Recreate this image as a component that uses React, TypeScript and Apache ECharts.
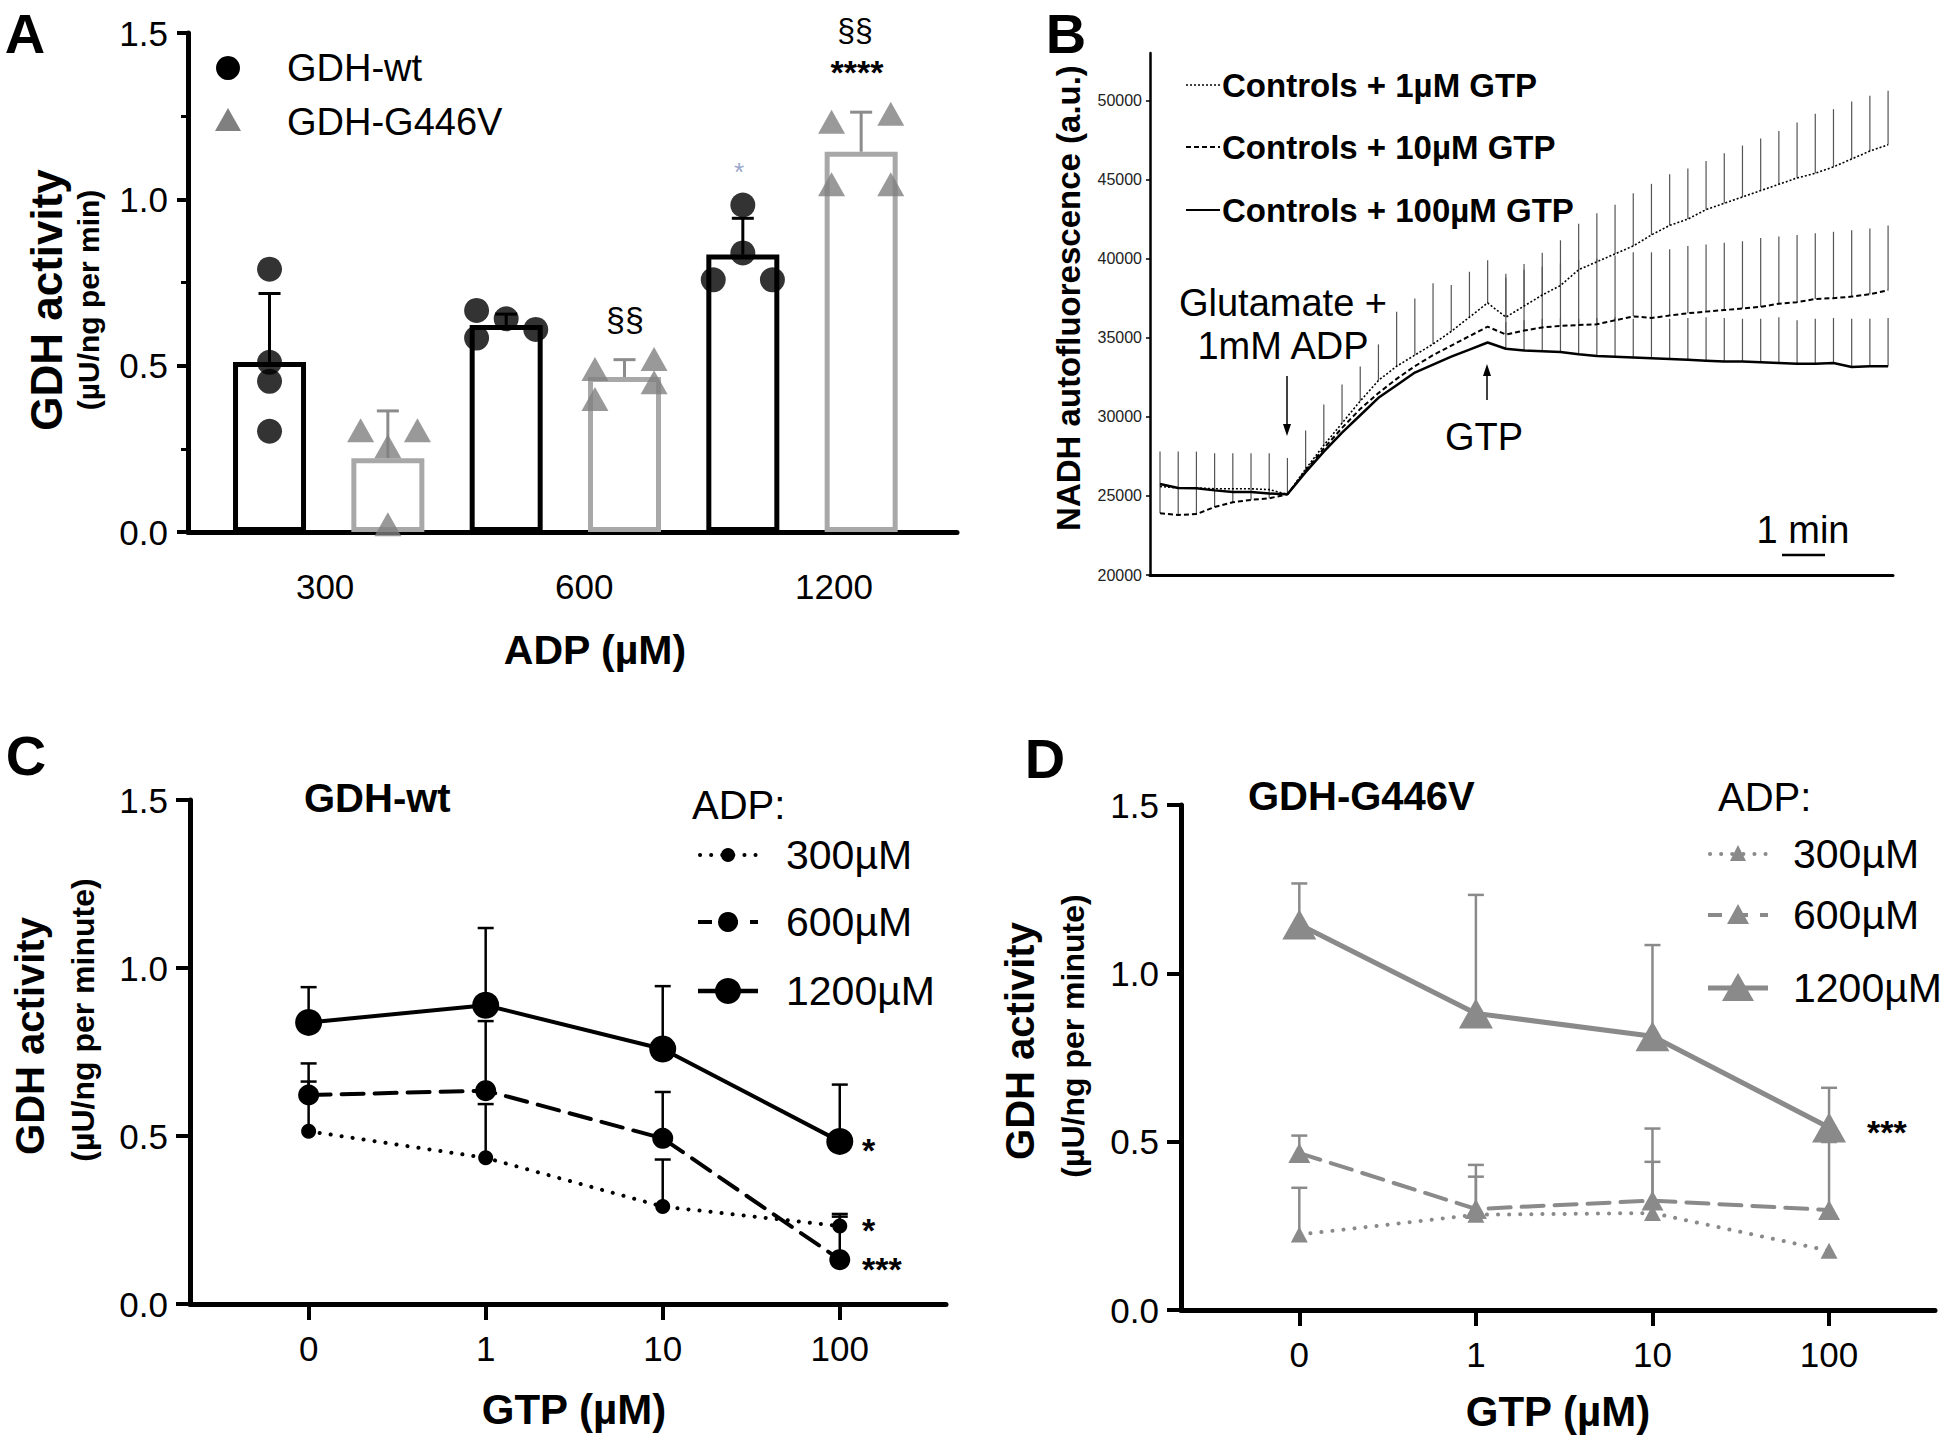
import React, { useEffect, useRef } from 'react';
import * as echarts from 'echarts';

// ---------- Panel A: GDH activity vs ADP ----------
const adpLevels = ['300', '600', '1200'];
const wtMean = [0.511, 0.622, 0.834];
const wtErrTop = [0.717, 0.655, 0.943];
const mutMean = [0.222, 0.466, 1.143];
const mutErrTop = [0.364, 0.518, 1.262];
const wtPoints = [[0.79, 0.51, 0.453, 0.303], [0.666, 0.583, 0.641, 0.609], [0.758, 0.983, 0.839, 0.758]];
const wtJitter = [[0, 0, 0, 0], [-0.25, -0.25, 0, 0.25], [-0.25, 0, 0, 0.25]];
const mutPoints = [[0.306, 0.258, 0.023, 0.306], [0.49, 0.40, 0.52, 0.45], [1.233, 1.045, 1.257, 1.045]];
const mutJitter = [[-0.23, 0, 0, 0.25], [-0.25, -0.25, 0.25, 0.25], [-0.25, -0.25, 0.25, 0.25]];

// ---------- Panel B: NADH autofluorescence time course ----------
const trace1uM = [25600, 25500, 25500, 25450, 25450, 25450, 25400, 25100, 26700, 28200, 29600, 31000, 32300, 33200, 33900, 34600, 35400, 36300, 37200, 36300, 37000, 37700, 38300, 39300, 39800, 40300, 40800, 41500, 42100, 42500, 43100, 43500, 43900, 44300, 44700, 45100, 45400, 45800, 46300, 46800, 47200];
const trace10uM = [23900, 23800, 23850, 24300, 24600, 24750, 24850, 25100, 26600, 28000, 29300, 30500, 31500, 32400, 33200, 33900, 34500, 35100, 35700, 35200, 35450, 35650, 35750, 35800, 35850, 36100, 36350, 36250, 36400, 36550, 36650, 36750, 36850, 36950, 37150, 37250, 37450, 37500, 37600, 37750, 38000];
const trace100uM = [25750, 25500, 25480, 25350, 25250, 25250, 25150, 25100, 26500, 27800, 29000, 30100, 31200, 32000, 32800, 33300, 33800, 34250, 34700, 34300, 34200, 34150, 34100, 33950, 33850, 33800, 33750, 33700, 33650, 33600, 33550, 33500, 33500, 33450, 33400, 33350, 33350, 33400, 33150, 33200, 33200];
const err1uMTop = [null, null, null, null, null, null, null, null, 29140, 30780, 32040, 33180, 34580, 36640, 37480, 38450, 38330, 39170, 39900, 39050, 39660, 40380, 41160, 42200, 42870, 43400, 44130, 44730, 45340, 45700, 46180, 46670, 47150, 47590, 48070, 48600, 49160, 49450, 49930, 50300, 50610];
const err10uMTop = [27800, 27800, 27800, 27700, 27700, 27700, 27700, 27400, null, null, null, null, null, null, null, null, null, null, null, 38800, 39300, 39500, 39700, 39900, 40000, 40200, 40400, 40400, 40600, 40800, 40900, 41000, 41100, 41300, 41400, 41500, 41600, 41700, 41800, 41900, 42100];
const err100uMTop = [null, null, null, null, null, null, null, null, null, null, null, null, null, null, null, null, null, null, null, 36000, 36100, 36200, 36250, 36200, 36250, 36300, 36200, 36250, 36200, 36250, 36300, 36250, 36200, 36200, 36300, 36100, 36200, 36250, 36200, 36200, 36250];
const bTicks = [20000, 25000, 30000, 35000, 40000, 45000, 50000];

// ---------- Panels C & D: GDH activity vs GTP ----------
const gtpLevels = ['0', '1', '10', '100'];
const wt300 = [0.514, 0.435, 0.29, 0.232];
const wt300Err = [0.662, 0.595, 0.43, 0.268];
const wt600 = [0.622, 0.635, 0.493, 0.132];
const wt600Err = [0.716, 0.842, 0.631, 0.26];
const wt1200 = [0.838, 0.889, 0.759, 0.484];
const wt1200Err = [0.943, 1.119, 0.946, 0.653];
const mut300 = [0.224, 0.283, 0.288, 0.176];
const mut300Err = [0.363, 0.396, 0.44, null];
const mut600 = [0.466, 0.30, 0.325, 0.297];
const mut600Err = [0.518, 0.431, 0.539, 0.499];
const mut1200 = [1.145, 0.881, 0.813, 0.542];
const mut1200Err = [1.267, 1.233, 1.084, 0.66];

const FONT = '"Liberation Sans", Arial, sans-serif';
const GREY = '#8a8a8a';
const BAR_GREY = '#a8a8a8';
const TICK_FS = 35;

function errRender(color: string, lw: number, cap: number) {
  return (params: any, api: any) => {
    const x = api.value(0);
    const m = api.value(1);
    const t = api.value(2);
    const p0 = api.coord([x, m]);
    const p1 = api.coord([x, t]);
    const children: any[] = [
      { type: 'line', shape: { x1: p0[0], y1: p0[1], x2: p1[0], y2: p1[1] }, style: { stroke: color, lineWidth: lw } },
    ];
    if (cap > 0) {
      children.push({ type: 'line', shape: { x1: p1[0] - cap / 2, y1: p1[1], x2: p1[0] + cap / 2, y2: p1[1] }, style: { stroke: color, lineWidth: lw } });
    }
    return { type: 'group', children };
  };
}

function errData(xs: number[], means: number[], tops: (number | null)[]) {
  const out: number[][] = [];
  means.forEach((m, i) => {
    const t = tops[i];
    if (t !== null && t !== undefined) out.push([xs[i], m, t]);
  });
  return out;
}

function txt(x: number, y: number, text: string, size: number, opts: any = {}) {
  return {
    type: 'text',
    x,
    y,
    rotation: opts.rotation || 0,
    z: 100,
    style: {
      text,
      fill: opts.color || '#000',
      font: `${opts.bold ? 'bold ' : ''}${size}px ${FONT}`,
      align: opts.align || 'center',
      verticalAlign: 'middle',
    },
  };
}

function hline(x1: number, x2: number, y: number, w: number, dash: any, color = '#000', cap = 'butt') {
  return { type: 'line', z: 100, shape: { x1, y1: y, x2, y2: y }, style: { stroke: color, lineWidth: w, lineDash: dash, lineCap: cap } };
}

function valueAxisY(grid: number, min: number, max: number, interval: number, extra: any = {}) {
  return {
    type: 'value',
    gridIndex: grid,
    min,
    max,
    interval,
    splitLine: { show: false },
    axisLine: { show: true, onZero: false, lineStyle: { color: '#000', width: 5 } },
    axisTick: { show: true, inside: false, length: 14, lineStyle: { color: '#000', width: 4 } },
    axisLabel: { color: '#000', fontSize: TICK_FS, fontFamily: FONT, margin: 22, formatter: (v: number) => v.toFixed(1) },
    ...extra,
  };
}

function gtpXAxis(grid: number) {
  return {
    type: 'value',
    gridIndex: grid,
    min: -0.67,
    max: 3.6,
    splitLine: { show: false },
    axisLine: { show: true, onZero: false, lineStyle: { color: '#000', width: 5 } },
    axisTick: { show: true, length: 16, customValues: [0, 1, 2, 3], lineStyle: { color: '#000', width: 4 } },
    axisLabel: {
      color: '#000', fontSize: TICK_FS, fontFamily: FONT, margin: 27,
      customValues: [0, 1, 2, 3],
      formatter: (v: number) => gtpLevels[Math.round(v)] ?? '',
    },
  };
}

const aLabelPos = [0.47, 2.66, 4.77];

export default function App() {
  const ref = useRef<HTMLDivElement>(null);
  useEffect(() => {
    document.body.style.margin = '0';
    const chart = echarts.init(ref.current!, null, { renderer: 'svg' });

    const wtSlots = adpLevels.map((_, i) => i * 2);
    const mutSlots = adpLevels.map((_, i) => i * 2 + 1);
    const wtPts: number[][] = [];
    wtPoints.forEach((g, gi) => g.forEach((v, k) => wtPts.push([wtSlots[gi] + wtJitter[gi][k], v])));
    const mutPts: number[][] = [];
    mutPoints.forEach((g, gi) => g.forEach((v, k) => mutPts.push([mutSlots[gi] + mutJitter[gi][k], v])));

    const idx = trace1uM.map((_, i) => i);
    const gx = [0, 1, 2, 3];

    const lineC = (name: string, data: number[], size: number, dash: any, width: number) => ({
      type: 'line', name, xAxisIndex: 2, yAxisIndex: 2, data: data.map((v, i) => [gx[i], v]),
      symbol: 'circle', symbolSize: size, itemStyle: { color: '#000' },
      lineStyle: { color: '#000', width, type: dash, cap: 'round' }, z: 5,
    });
    const lineD = (name: string, data: number[], size: any, dash: any, width: number) => ({
      type: 'line', name, xAxisIndex: 3, yAxisIndex: 3, data: data.map((v, i) => [gx[i], v]),
      symbol: 'triangle', symbolSize: size, itemStyle: { color: GREY },
      lineStyle: { color: GREY, width, type: dash, cap: 'round' }, z: 5,
    });
    const errSeries = (xi: number, data: number[][], color: string, lw: number, cap: number, z = 3) => ({
      type: 'custom', xAxisIndex: xi, yAxisIndex: xi, renderItem: errRender(color, lw, cap),
      data, encode: { x: 0, y: [1, 2] }, z, silent: true,
    });

    const graphics: any[] = [
      // panel letters
      txt(25, 33, 'A', 56, { bold: true }),
      txt(1066, 33, 'B', 56, { bold: true }),
      txt(26, 755, 'C', 56, { bold: true }),
      txt(1045, 758, 'D', 56, { bold: true }),
      // Panel A
      txt(46, 300, 'GDH activity', 44, { bold: true, rotation: Math.PI / 2 }),
      txt(88, 300, '(µU/ng per min)', 30, { bold: true, rotation: Math.PI / 2 }),
      txt(595, 650, 'ADP (µM)', 41, { bold: true }),
      { type: 'circle', z: 100, shape: { cx: 228, cy: 68, r: 12 }, style: { fill: '#000' } },
      txt(287, 68, 'GDH-wt', 38, { align: 'left' }),
      { type: 'polygon', z: 100, shape: { points: [[228, 108], [241, 131], [215, 131]] }, style: { fill: '#808080' } },
      txt(287, 122, 'GDH-G446V', 38, { align: 'left' }),
      txt(625, 319, '§§', 34),
      txt(855, 30, '§§', 32),
      txt(857, 72, '****', 34, { bold: true }),
      txt(739, 172, '*', 26, { color: '#9aa6cc' }),
      // Panel B
      txt(1068, 298, 'NADH autofluorescence (a.u.)', 33, { bold: true, rotation: Math.PI / 2 }),
      hline(1186, 1220, 85, 1.5, [2, 2]),
      txt(1222, 85, 'Controls + 1µM GTP', 33, { bold: true, align: 'left' }),
      hline(1186, 1220, 147, 1.8, [5, 3]),
      txt(1222, 147, 'Controls + 10µM GTP', 33, { bold: true, align: 'left' }),
      hline(1186, 1220, 210, 2),
      txt(1222, 210, 'Controls + 100µM GTP', 33, { bold: true, align: 'left' }),
      txt(1283, 303, 'Glutamate +', 38),
      txt(1283, 346, '1mM ADP', 38),
      { type: 'line', z: 100, shape: { x1: 1287, y1: 376, x2: 1287, y2: 428 }, style: { stroke: '#000', lineWidth: 1.5 } },
      { type: 'polygon', z: 100, shape: { points: [[1287, 436], [1283, 424], [1291, 424]] }, style: { fill: '#000' } },
      { type: 'line', z: 100, shape: { x1: 1487, y1: 400, x2: 1487, y2: 372 }, style: { stroke: '#000', lineWidth: 1.5 } },
      { type: 'polygon', z: 100, shape: { points: [[1487, 364], [1483, 376], [1491, 376]] }, style: { fill: '#000' } },
      txt(1484, 437, 'GTP', 38),
      txt(1803, 530, '1 min', 38),
      hline(1782, 1825, 555, 2.5, null),
      // Panel C
      txt(30, 1036, 'GDH activity', 40, { bold: true, rotation: Math.PI / 2 }),
      txt(83, 1020, '(µU/ng per minute)', 32, { bold: true, rotation: Math.PI / 2 }),
      txt(574, 1409, 'GTP (µM)', 42, { bold: true }),
      txt(304, 798, 'GDH-wt', 40, { bold: true, align: 'left' }),
      txt(692, 805, 'ADP:', 40, { align: 'left' }),
      hline(700, 756, 855, 4, [0.1, 11], '#000', 'round'),
      { type: 'circle', z: 100, shape: { cx: 728, cy: 855, r: 7 }, style: { fill: '#000' } },
      txt(786, 855, '300µM', 41, { align: 'left' }),
      hline(698, 758, 922, 4, [14, 12]),
      { type: 'circle', z: 100, shape: { cx: 728, cy: 922, r: 10 }, style: { fill: '#000' } },
      txt(786, 922, '600µM', 41, { align: 'left' }),
      hline(698, 758, 991, 4.5, null),
      { type: 'circle', z: 100, shape: { cx: 728, cy: 991, r: 13 }, style: { fill: '#000' } },
      txt(786, 991, '1200µM', 41, { align: 'left' }),
      txt(862, 1150, '*', 34, { bold: true, align: 'left' }),
      txt(862, 1230, '*', 34, { bold: true, align: 'left' }),
      txt(862, 1269, '***', 34, { bold: true, align: 'left' }),
      // Panel D
      txt(1020, 1041, 'GDH activity', 40, { bold: true, rotation: Math.PI / 2 }),
      txt(1073, 1036, '(µU/ng per minute)', 32, { bold: true, rotation: Math.PI / 2 }),
      txt(1558, 1411, 'GTP (µM)', 42, { bold: true }),
      txt(1248, 796, 'GDH-G446V', 40, { bold: true, align: 'left' }),
      txt(1718, 797, 'ADP:', 40, { align: 'left' }),
      hline(1710, 1766, 854, 4, [0.1, 11], GREY, 'round'),
      { type: 'polygon', z: 100, shape: { points: [[1738, 845], [1746, 861], [1730, 861]] }, style: { fill: GREY } },
      txt(1793, 854, '300µM', 41, { align: 'left' }),
      hline(1708, 1768, 915, 4, [14, 12], GREY),
      { type: 'polygon', z: 100, shape: { points: [[1738, 904], [1749, 924], [1727, 924]] }, style: { fill: GREY } },
      txt(1793, 915, '600µM', 41, { align: 'left' }),
      hline(1708, 1768, 988, 5, null, GREY),
      { type: 'polygon', z: 100, shape: { points: [[1738, 973], [1754, 1001], [1722, 1001]] }, style: { fill: GREY } },
      txt(1793, 988, '1200µM', 41, { align: 'left' }),
      txt(1867, 1132, '***', 34, { bold: true, align: 'left' }),
    ];

    const option: any = {
      animation: false,
      backgroundColor: '#fff',
      textStyle: { fontFamily: FONT },
      grid: [
        { left: 188, top: 33, width: 769, height: 499 },
        { left: 1150, top: 53, width: 743, height: 522 },
        { left: 190, top: 800, width: 756, height: 504 },
        { left: 1181, top: 805, width: 754, height: 505 },
      ],
      xAxis: [
        {
          type: 'value', gridIndex: 0, min: -0.689, max: 5.81,
          splitLine: { show: false },
          axisLine: { show: true, onZero: false, lineStyle: { color: '#000', width: 5 } },
          axisTick: { show: false },
          axisLabel: {
            color: '#000', fontSize: TICK_FS, fontFamily: FONT, margin: 37,
            customValues: aLabelPos,
            formatter: (v: number) => {
              let best = 0;
              aLabelPos.forEach((p, i) => { if (Math.abs(p - v) < Math.abs(aLabelPos[best] - v)) best = i; });
              return adpLevels[best];
            },
          },
        },
        {
          type: 'value', gridIndex: 1, min: -0.55, max: 40.27,
          splitLine: { show: false },
          axisLine: { show: true, onZero: false, lineStyle: { color: '#000', width: 3 } },
          axisTick: { show: false }, axisLabel: { show: false },
        },
        gtpXAxis(2),
        gtpXAxis(3),
      ],
      yAxis: [
        valueAxisY(0, 0, 1.5, 0.5, {
          axisTick: { show: true, length: 11, lineStyle: { color: '#000', width: 4 } },
          minorTick: { show: true, splitNumber: 2, length: 7, lineStyle: { color: '#000', width: 3 } },
          axisLabel: { color: '#000', fontSize: TICK_FS, fontFamily: FONT, margin: 20, formatter: (v: number) => v.toFixed(1) },
        }),
        {
          type: 'value', gridIndex: 1, min: 20000, max: 53000,
          splitLine: { show: false },
          axisLine: { show: true, onZero: false, lineStyle: { color: '#000', width: 2.5 } },
          axisTick: { show: true, length: 4, customValues: bTicks, lineStyle: { color: '#000', width: 1.5 } },
          axisLabel: {
            color: '#222', fontSize: 16, fontFamily: FONT, margin: 8, customValues: bTicks,
            formatter: (v: number) => String(Math.round(v)),
          },
        },
        valueAxisY(2, 0, 1.5, 0.5),
        valueAxisY(3, 0, 1.5, 0.5),
      ],
      series: [
        // ---- A ----
        {
          type: 'bar', name: 'GDH-wt bars', xAxisIndex: 0, yAxisIndex: 0, barWidth: 73, barGap: '-100%',
          data: wtMean.map((v, i) => [wtSlots[i], v]),
          itemStyle: { color: 'rgba(255,255,255,0)', borderColor: '#000', borderWidth: 5 }, z: 1,
        },
        {
          type: 'bar', name: 'GDH-G446V bars', xAxisIndex: 0, yAxisIndex: 0, barWidth: 73, barGap: '-100%',
          data: mutMean.map((v, i) => [mutSlots[i], v]),
          itemStyle: { color: 'rgba(255,255,255,0)', borderColor: BAR_GREY, borderWidth: 5 }, z: 1,
        },
        errSeries(0, errData(wtSlots, wtMean, wtErrTop), '#000', 3, 22, 2),
        errSeries(0, errData(mutSlots, mutMean, mutErrTop), '#8c8c8c', 3, 22, 2),
        {
          type: 'scatter', name: 'GDH-wt', xAxisIndex: 0, yAxisIndex: 0, data: wtPts,
          symbol: 'circle', symbolSize: 25, itemStyle: { color: '#000' }, z: 4,
        },
        {
          type: 'scatter', name: 'GDH-G446V', xAxisIndex: 0, yAxisIndex: 0, data: mutPts,
          symbol: 'triangle', symbolSize: [27, 24], itemStyle: { color: '#808080' }, z: 4,
        },
        // ---- B ----
        errSeries(1, errData(idx, trace1uM, err1uMTop), '#555', 1.2, 0, 2),
        errSeries(1, errData(idx, trace10uM, err10uMTop), '#555', 1.2, 0, 2),
        errSeries(1, errData(idx, trace100uM, err100uMTop), '#555', 1.2, 0, 2),
        {
          type: 'line', name: 'Controls + 1µM GTP', xAxisIndex: 1, yAxisIndex: 1, showSymbol: false, symbol: 'none',
          data: trace1uM.map((v, i) => [idx[i], v]), lineStyle: { color: '#000', width: 1.6, type: [2, 2] }, z: 4,
        },
        {
          type: 'line', name: 'Controls + 10µM GTP', xAxisIndex: 1, yAxisIndex: 1, showSymbol: false, symbol: 'none',
          data: trace10uM.map((v, i) => [idx[i], v]), lineStyle: { color: '#000', width: 2, type: [5, 3] }, z: 4,
        },
        {
          type: 'line', name: 'Controls + 100µM GTP', xAxisIndex: 1, yAxisIndex: 1, showSymbol: false, symbol: 'none',
          data: trace100uM.map((v, i) => [idx[i], v]), lineStyle: { color: '#000', width: 2.5 }, z: 4,
        },
        // ---- C ----
        errSeries(2, errData(gx, wt300, wt300Err), '#000', 2.5, 16),
        errSeries(2, errData(gx, wt600, wt600Err), '#000', 2.5, 16),
        errSeries(2, errData(gx, wt1200, wt1200Err), '#000', 2.5, 16),
        lineC('300µM', wt300, 15, [0.1, 11], 4),
        lineC('600µM', wt600, 21, [22, 11], 4),
        lineC('1200µM', wt1200, 27, 'solid', 4),
        // ---- D ----
        errSeries(3, errData(gx, mut300, mut300Err), GREY, 2.5, 16),
        errSeries(3, errData(gx, mut600, mut600Err), GREY, 2.5, 16),
        errSeries(3, errData(gx, mut1200, mut1200Err), GREY, 2.5, 16),
        lineD('300µM G446V', mut300, [17, 16], [0.1, 11], 4),
        lineD('600µM G446V', mut600, [22, 20], [22, 11], 4),
        lineD('1200µM G446V', mut1200, [34, 30], 'solid', 5),
      ],
      graphic: graphics,
    };
    chart.setOption(option);
    return () => chart.dispose();
  }, []);
  return <div ref={ref} style={{ width: 1946, height: 1437 }} />;
}
